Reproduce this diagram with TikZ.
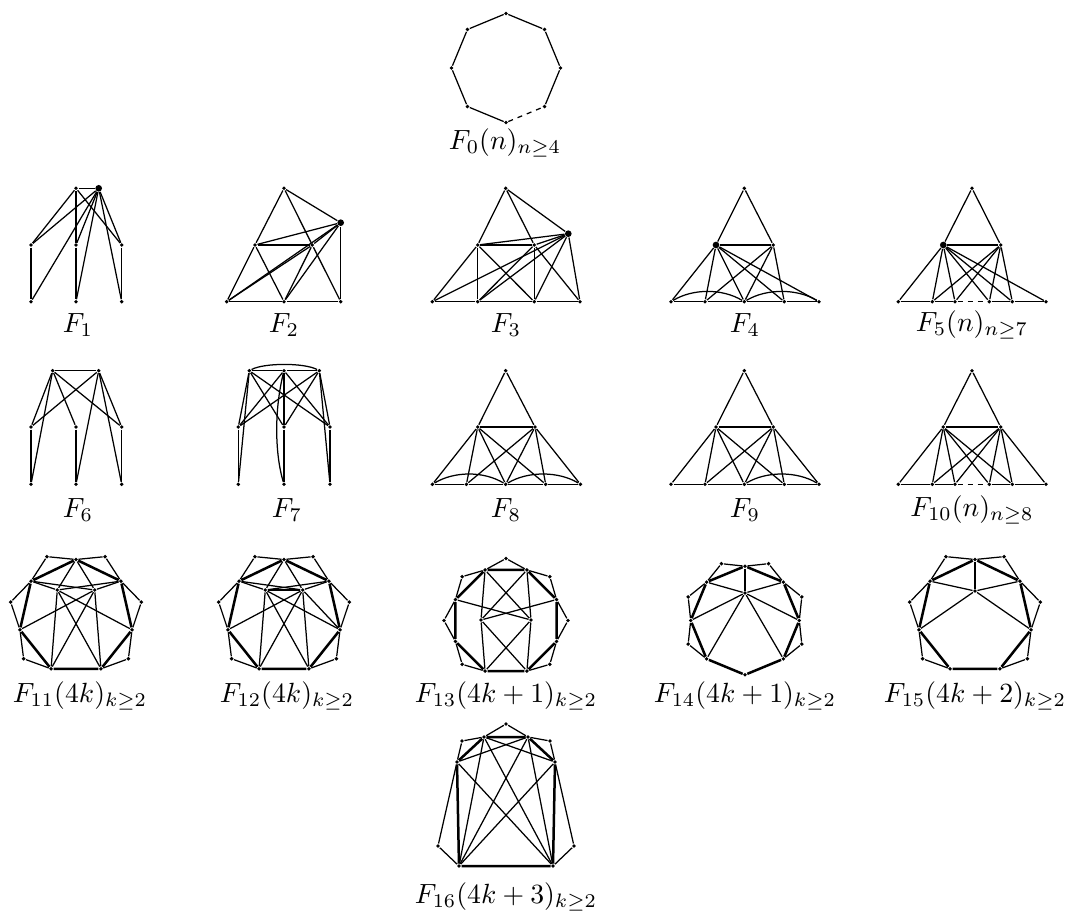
\documentclass[tikz,border=0pt]{standalone}
\usetikzlibrary{calc}
\begin{document}
\begin{tikzpicture}[x=0.36pt,y=-0.36pt,
 v/.style={circle,fill,inner sep=0pt,minimum size=1.4pt},
 bv/.style={circle,fill,inner sep=0pt,minimum size=2.4pt},
 e/.style={line width=0.45pt},
 te/.style={line width=0.9pt},
 dsh/.style={line width=0.45pt,dash pattern=on 1.8pt off 1.8pt},
 lab/.style={inner sep=0pt}]
\useasboundingbox (0,0) rectangle (1067,915);
% ---------- F0
\foreach \i in {0,...,7} \node[v] (o\i) at ({506+54.5*cos(90+45*\i)},{68-54.5*sin(90+45*\i)}) {};
\draw[e] (o4)--(o3)--(o2)--(o1)--(o0)--(o7)--(o6)--(o5);
\draw[dsh] (o4)--(o5);
\node[lab] (l0) at (505,143) {$F_0(n)_{n\geq 4}$};
% ---------- F1
\node[v] (a1) at (76,188.3) {}; \node[bv] (B1) at (98.7,188.3) {};
\node[v] (a1m1) at (31,245) {}; \node[v] (a1m2) at (76,245) {}; \node[v] (a1m3) at (121.7,245) {};
\node[v] (a1b1) at (31,301.7) {}; \node[v] (a1b2) at (76,301.7) {}; \node[v] (a1b3) at (121.7,301.7) {};
\foreach \p/\q in {a1/B1,a1/a1m1,a1/a1m2,a1/a1m3,a1m1/a1b1,a1m2/a1b2,a1m3/a1b3,B1/a1m1,B1/a1b1,B1/a1b2,B1/a1m3,B1/a1b3,B1/a1m2}
 \draw[e] (\p)--(\q);
\node[lab] (l1) at (78,325) {$F_1$};
% ---------- F2
\node[v] (c2t) at (284,188.3) {}; \node[bv] (B2) at (340.7,222.7) {};
\node[v] (c2l) at (255,245) {}; \node[v] (c2r) at (312.3,245) {};
\node[v] (c2a) at (226.7,301.7) {}; \node[v] (c2b) at (284,301.7) {}; \node[v] (c2c) at (340.7,301.7) {};
\foreach \p/\q in {c2t/c2l,c2l/c2a,c2t/c2r,c2r/c2c,c2t/B2,c2l/c2r,c2l/c2b,c2r/c2b,c2a/c2b,c2b/c2c,c2c/B2,B2/c2l,B2/c2r,B2/c2a,B2/c2b,c2a/c2r}
 \draw[e] (\p)--(\q);
\node[lab] (l2) at (284,325) {$F_2$};
% ---------- F3
\node[v] (c3t) at (505.7,188.3) {}; \node[bv] (B3) at (568.3,233.7) {};
\node[v] (c3l) at (477.7,245) {}; \node[v] (c3r) at (534.3,245) {};
\node[v] (c3a) at (432.3,301.7) {}; \node[v] (c3b) at (477.7,301.7) {}; \node[v] (c3c) at (534.3,301.7) {}; \node[v] (c3d) at (580,301.7) {};
\foreach \p/\q in {c3t/c3l,c3t/c3r,c3t/B3,c3l/c3r,c3l/c3a,c3l/c3b,c3l/c3c,c3r/c3b,c3r/c3c,c3r/c3d,c3a/c3b,c3b/c3c,c3c/c3d,B3/c3l,B3/c3r,B3/c3a,B3/c3b,B3/c3c,B3/c3d}
 \draw[e] (\p)--(\q);
\node[lab] (l3) at (506,325) {$F_3$};
% ---------- F4
\node[v] (c4t) at (744.3,188.3) {}; \node[bv] (L4) at (716,245) {}; \node[v] (R4) at (773.3,245) {};
\node[v] (c4a) at (671,301.7) {}; \node[v] (c4b) at (705,301.7) {}; \node[v] (c4c) at (744.3,301.7) {}; \node[v] (c4d) at (784.3,301.7) {}; \node[v] (c4e) at (819,301.7) {};
\foreach \p/\q in {c4t/L4,c4t/R4,L4/R4,L4/c4a,L4/c4b,L4/c4c,L4/c4d,L4/c4e,R4/c4b,R4/c4c,R4/c4d,c4a/c4b,c4b/c4c,c4c/c4d,c4d/c4e}
 \draw[e] (\p)--(\q);
\draw[e] (c4a) .. controls +(22,-13.3) and +(-22,-13.3) .. (c4c);
\draw[e] (c4c) .. controls +(22,-13.3) and +(-22,-13.3) .. (c4e);
\node[lab] (l4) at (745,325) {$F_4$};
% ---------- F5
\node[v] (c5t) at (972,188.3) {}; \node[bv] (L5) at (943.3,245) {}; \node[v] (R5) at (1000.7,245) {};
\node[v] (c5a) at (898.3,301.7) {}; \node[v] (c5b) at (932.3,301.7) {}; \node[v] (c5c) at (955,301.7) {};
\node[v] (c5d) at (989.3,301.7) {}; \node[v] (c5e) at (1012.3,301.7) {}; \node[v] (c5f) at (1046,301.7) {};
\foreach \p/\q in {c5t/L5,c5t/R5,L5/R5,L5/c5a,L5/c5b,L5/c5c,L5/c5d,L5/c5e,L5/c5f,R5/c5b,R5/c5c,R5/c5d,R5/c5e,c5a/c5b,c5b/c5c,c5d/c5e,c5e/c5f}
 \draw[e] (\p)--(\q);
\draw[dsh] (c5c)--(c5d);
\node[lab] (l5) at (972,325) {$F_5(n)_{n\geq 7}$};
% ---------- F6
\node[v] (c6p) at (52.7,370.7) {}; \node[v] (c6q) at (98.7,370.7) {};
\node[v] (c6m1) at (31,427) {}; \node[v] (c6m2) at (76,427) {}; \node[v] (c6m3) at (121.7,427) {};
\node[v] (c6b1) at (31,484.3) {}; \node[v] (c6b2) at (76,484.3) {}; \node[v] (c6b3) at (121.7,484.3) {};
\foreach \p/\q in {c6p/c6q,c6p/c6m1,c6p/c6b1,c6p/c6m2,c6p/c6m3,c6q/c6m1,c6q/c6b2,c6q/c6m3,c6q/c6b3,c6m1/c6b1,c6m2/c6b2,c6m3/c6b3}
 \draw[e] (\p)--(\q);
\node[lab] (l6) at (78,510) {$F_6$};
% ---------- F7
\node[v] (c7p) at (249.3,370.7) {}; \node[v] (c7q) at (284,370.7) {}; \node[v] (c7r) at (319.3,370.7) {};
\node[v] (c7m1) at (238.3,427) {}; \node[v] (c7m2) at (284,427) {}; \node[v] (c7m3) at (330,427) {};
\node[v] (c7b1) at (238.3,484.3) {}; \node[v] (c7b2) at (284,484.3) {}; \node[v] (c7b3) at (330,484.3) {};
\foreach \p/\q in {c7p/c7q,c7q/c7r,c7p/c7m1,c7p/c7b1,c7p/c7m2,c7p/c7m3,c7q/c7m1,c7q/c7m3,c7r/c7m1,c7r/c7m2,c7r/c7m3,c7r/c7b3,c7m1/c7b1,c7m2/c7b2,c7m3/c7b3,c7q/c7m2}
 \draw[e] (\p)--(\q);
\draw[e] (c7p) .. controls +(15,-8) and +(-15,-8) .. (c7r);
\draw[e] (c7q) .. controls +(-10,40) and +(-9,-30) .. (c7b2);
\node[lab] (l7) at (287,510) {$F_7$};
% ---------- F8
\node[v] (c8t) at (505.7,370.7) {}; \node[v] (L8) at (477.7,427) {}; \node[v] (R8) at (535,427) {};
\node[v] (c8a) at (432.4,484.3) {}; \node[v] (c8b) at (466.4,484.3) {}; \node[v] (c8c) at (505.7,484.3) {}; \node[v] (c8d) at (545.7,484.3) {}; \node[v] (c8e) at (580.4,484.3) {};
\foreach \p/\q in {c8t/L8,c8t/R8,L8/R8,L8/c8a,L8/c8b,L8/c8c,L8/c8d,R8/c8b,R8/c8c,R8/c8d,R8/c8e,c8a/c8b,c8b/c8c,c8c/c8d,c8d/c8e}
 \draw[e] (\p)--(\q);
\draw[e] (c8a) .. controls +(22,-13.3) and +(-22,-13.3) .. (c8c);
\draw[e] (c8c) .. controls +(22,-13.3) and +(-22,-13.3) .. (c8e);
\node[lab] (l8) at (506,510) {$F_8$};
% ---------- F9
\node[v] (c9t) at (744.3,370.7) {}; \node[v] (L9) at (716,427) {}; \node[v] (R9) at (773.3,427) {};
\node[v] (c9a) at (671,484.3) {}; \node[v] (c9b) at (705,484.3) {}; \node[v] (c9c) at (744.3,484.3) {}; \node[v] (c9d) at (784.3,484.3) {}; \node[v] (c9e) at (819,484.3) {};
\foreach \p/\q in {c9t/L9,c9t/R9,L9/R9,L9/c9a,L9/c9b,L9/c9c,L9/c9d,R9/c9b,R9/c9c,R9/c9d,R9/c9e,c9a/c9b,c9b/c9c,c9c/c9d,c9d/c9e}
 \draw[e] (\p)--(\q);
\draw[e] (c9c) .. controls +(22,-13.3) and +(-22,-13.3) .. (c9e);
\node[lab] (l9) at (745,510) {$F_9$};
% ---------- F10
\node[v] (cat) at (972,370.7) {}; \node[v] (La) at (943.3,427) {}; \node[v] (Ra) at (1000.7,427) {};
\node[v] (caa) at (898.3,484.3) {}; \node[v] (cab) at (932.3,484.3) {}; \node[v] (cac) at (955,484.3) {};
\node[v] (cad) at (989.3,484.3) {}; \node[v] (cae) at (1012.3,484.3) {}; \node[v] (caf) at (1046,484.3) {};
\foreach \p/\q in {cat/La,cat/Ra,La/Ra,La/caa,La/cab,La/cac,La/cad,La/cae,Ra/cab,Ra/cac,Ra/cad,Ra/cae,Ra/caf,caa/cab,cab/cac,cad/cae,cae/caf}
 \draw[e] (\p)--(\q);
\draw[dsh] (cac)--(cad);
\node[lab] (la) at (972,510) {$F_{10}(n)_{n\geq 8}$};
% ---------- heptagon frames: F11 (k), F12 (m), F15 (p)
\foreach \nm/\cx in {k/76,m/284,p/975}{
 \foreach \i in {0,...,6} \node[v] (\nm\i) at ({\cx+57.5*cos(90+360/7*\i)},{617-57.5*sin(90+360/7*\i)}) {};
 \draw[te] (\nm0)--(\nm1)--(\nm2)--(\nm3)--(\nm4)--(\nm5)--(\nm6)--(\nm0);
 \foreach \i/\j in {0/1,1/2,2/3,4/5,5/6,6/0}{
  \node[v] (\nm e\i) at ({\cx+67*cos(90+360/7*(\i+0.5))},{617-67*sin(90+360/7*(\i+0.5))}) {};
  \draw[e] (\nm\i)--(\nm e\i)--(\nm\j);
 }
}
% F11 inner
\node[v] (kI) at (57.3,590) {}; \node[v] (kJ) at (94.7,590) {};
\foreach \p/\q in {k0/kI,k0/kJ,k1/kI,k1/kJ,k6/kI,k6/kJ,kI/k3,kI/k4,kI/k5,kJ/k4,kJ/k3,kJ/k2}
 \draw[e] (\p)--(\q);
\node[lab] (lb) at (80,696) {$F_{11}(4k)_{k\geq 2}$};
% F12 inner
\node[v] (mI) at (265.3,590) {}; \node[v] (mJ) at (302.7,590) {};
\foreach \p/\q in {m0/mI,m0/mJ,m1/mI,m1/mJ,m6/mI,m6/mJ,mI/mJ,mI/m3,mI/m4,mJ/m3,mJ/m4,mJ/m5,mI/m5,mJ/m2}
 \draw[e] (\p)--(\q);
\node[lab] (lc) at (287,696) {$F_{12}(4k)_{k\geq 2}$};
% F15 inner
\node[v] (pC) at (975,591) {};
\foreach \p/\q in {p0/pC,p1/pC,p6/pC,pC/p2,pC/p5}
 \draw[e] (\p)--(\q);
\node[lab] (lf) at (975,696) {$F_{15}(4k+2)_{k\geq 2}$};
% ---------- F13: octagon with flat top
\foreach \i in {0,...,7} \node[v] (q\i) at ({506+54.7*cos(22.5+45*\i)},{620.5-54.7*sin(22.5+45*\i)}) {};
\draw[te] (q0)--(q1)--(q2)--(q3)--(q4)--(q5)--(q6)--(q7)--(q0);
\foreach \i/\j/\a in {7/0/0,0/1/45,1/2/90,2/3/135,3/4/180,4/5/225,6/7/315}{
 \node[v] (qe\a) at ({506+62*cos(\a)},{620.5-62*sin(\a)}) {};
 \draw[e] (q\i)--(qe\a)--(q\j);
}
\node[v] (qI) at (481,620) {}; \node[v] (qJ) at (531,620) {};
\foreach \p/\q in {q2/qI,q2/qJ,q1/qI,q1/qJ,q3/qJ,q0/qI,qI/q5,qJ/q6,qI/q6,qJ/q5}
 \draw[e] (\p)--(\q);
\node[lab] (ld) at (506,696) {$F_{13}(4k+1)_{k\geq 2}$};
% ---------- F14: octagon with vertex on top
\foreach \i in {0,...,7} \node[v] (w\i) at ({745+54.3*cos(90+45*\i)},{620.5-54.3*sin(90+45*\i)}) {};
\draw[te] (w0)--(w1)--(w2)--(w3)--(w4)--(w5)--(w6)--(w7)--(w0);
\foreach \i/\j/\a in {0/1/112.5,1/2/157.5,2/3/202.5,5/6/337.5,6/7/22.5,7/0/67.5}{
 \node[v] (we\i) at ({745+61.5*cos(\a)},{620.5-61.5*sin(\a)}) {};
 \draw[e] (w\i)--(we\i)--(w\j);
}
\node[v] (wC) at (745,593) {};
\foreach \p/\q in {w0/wC,w1/wC,w7/wC,wC/w2,wC/w6,wC/w3,wC/w5}
 \draw[e] (\p)--(\q);
\node[lab] (le) at (745,696) {$F_{14}(4k+1)_{k\geq 2}$};
% ---------- F16
\node[v] (gU) at (484,737) {}; \node[v] (gV) at (528,737) {};
\node[v] (gS) at (457,762) {}; \node[v] (gT) at (555,762) {};
\node[v] (gD) at (459,866) {}; \node[v] (gE) at (553,866) {};
\draw[te] (gU)--(gV)--(gT)--(gE)--(gD)--(gS)--(gU);
\node[v] (ge1) at (506,724) {}; \node[v] (ge2) at (462,741) {}; \node[v] (ge3) at (550,741) {};
\node[v] (ge4) at (438,846) {}; \node[v] (ge5) at (574,846) {};
\foreach \p/\q in {gU/ge1,ge1/gV,gU/ge2,ge2/gS,gV/ge3,ge3/gT,gS/ge4,ge4/gD,gT/ge5,ge5/gE,gU/gE,gV/gD,gS/gE,gT/gD,gU/gT,gV/gS,gU/gD,gV/gE}
 \draw[e] (\p)--(\q);
\node[lab] (lg) at (506,897) {$F_{16}(4k+3)_{k\geq 2}$};
\end{tikzpicture}
\end{document}
